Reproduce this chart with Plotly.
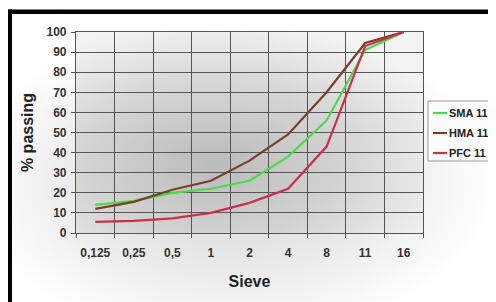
import base64
import plotly.graph_objects as go

# ---- data ----
sieve = ["0,125", "0,25", "0,5", "1", "2", "4", "8", "11", "16"]
sma_11 = [14, 16, 20, 22, 26, 38, 56, 91, 100]
hma_11 = [12, 15.5, 21.5, 26, 36, 49, 70, 94.5, 100]
pfc_11 = [5.5, 6, 7.3, 10, 15, 22, 43, 93, 100]
y_ticks = list(range(0, 101, 10))

series_names = ["SMA 11", "HMA 11", "PFC 11"]
series_values = [sma_11, hma_11, pfc_11]
series_colors = ["#4adb4a", "#7a3e2c", "#c9304a"]

FONT = "Liberation Sans, Arial, sans-serif"
GRID = "#555555"

OFF = 8  # page body margin: the figure starts at (8, 8) in the window
W, H = 488, 294
ML, MR, MT, MB = 68, 73, 24, 69
PW, PH = W - ML - MR, H - MT - MB


def px(x):
    """window pixel x -> paper fraction"""
    return (x - OFF - ML) / PW


def py(y):
    """window pixel y -> paper fraction"""
    return (H - MB - (y - OFF)) / PH


def svg_uri(svg):
    return "data:image/svg+xml;base64," + base64.b64encode(svg.encode()).decode()


plot_grad = svg_uri(
    "<svg xmlns='http://www.w3.org/2000/svg' width='347' height='201' preserveAspectRatio='none'>"
    "<defs><radialGradient id='g' cx='0.40' cy='0.66' r='0.72'>"
    "<stop offset='0' stop-color='#bbbbbb'/><stop offset='0.55' stop-color='#d5d5d5'/>"
    "<stop offset='1' stop-color='#f3f3f3'/></radialGradient></defs>"
    "<rect width='100%' height='100%' fill='url(#g)'/></svg>"
)
outer_grad = svg_uri(
    "<svg xmlns='http://www.w3.org/2000/svg' width='490' height='290' preserveAspectRatio='none'>"
    "<defs><radialGradient id='g' cx='0.45' cy='0.58' r='0.55'>"
    "<stop offset='0' stop-color='#d4d4d4'/><stop offset='0.6' stop-color='#ececec'/>"
    "<stop offset='1' stop-color='#ffffff'/></radialGradient></defs>"
    "<rect width='100%' height='100%' fill='url(#g)'/></svg>"
)

fig = go.Figure()
for name, vals, col in zip(series_names, series_values, series_colors):
    fig.add_trace(go.Scatter(x=sieve, y=vals, mode="lines", name=name,
                             line=dict(color=col, width=2.2), showlegend=False))

shapes = [
    # black frame of the slide (top and left edges)
    dict(type="rect", xref="paper", yref="paper", x0=px(8), x1=px(W + OFF + 20),
         y0=py(14), y1=py(9.5), fillcolor="black", line=dict(width=0)),
    dict(type="rect", xref="paper", yref="paper", x0=px(8), x1=px(12),
         y0=py(H + OFF + 20), y1=py(9.5), fillcolor="black", line=dict(width=0)),
    # legend frame (short sample lines like the original)
    dict(type="rect", xref="paper", yref="paper", x0=px(428), x1=px(493),
         y0=py(161), y1=py(101), fillcolor="#fbfbfb",
         line=dict(color="#9a9a9a", width=1)),
]
annotations = []
for i, (name, col) in enumerate(zip(series_names, series_colors)):
    yc = 113 + i * 20
    shapes.append(dict(type="line", xref="paper", yref="paper",
                       x0=px(433), x1=px(447), y0=py(yc), y1=py(yc),
                       line=dict(color=col, width=2.2)))
    annotations.append(dict(xref="paper", yref="paper", x=px(447), y=py(yc),
                            xanchor="left", yanchor="middle", showarrow=False,
                            text=name,
                            font=dict(family=FONT, size=11, color="#222222",
                                      weight="bold")))

fig.update_layout(
    width=W, height=H, autosize=False,
    margin=dict(l=ML, r=MR, t=MT, b=MB),
    paper_bgcolor="white",
    plot_bgcolor="rgba(0,0,0,0)",
    font=dict(family=FONT, color="#333333"),
    showlegend=False,
    images=[
        dict(source=outer_grad, xref="paper", yref="paper", x=px(12), y=py(14),
             sizex=px(W + OFF) - px(12), sizey=py(14) - py(H + OFF),
             sizing="stretch", layer="below"),
        dict(source=plot_grad, xref="paper", yref="paper", x=0, y=1,
             sizex=1, sizey=1, sizing="stretch", layer="below"),
    ],
    shapes=shapes,
    annotations=annotations,
)

fig.update_xaxes(
    type="category", range=[-0.5, len(sieve) - 0.5], tickson="boundaries",
    automargin=False, tickangle=0,
    showgrid=True, gridcolor=GRID, gridwidth=1.2,
    showline=True, linecolor=GRID, linewidth=1.2, mirror=True,
    ticks="outside", ticklen=4, tickcolor=GRID, tickwidth=1.2,
    tickfont=dict(family=FONT, size=12, color="#333333", weight="bold"),
    ticklabelstandoff=8,
    title=dict(text="Sieve", standoff=17,
               font=dict(family=FONT, size=16, color="#222222", weight="bold")),
)
fig.update_yaxes(
    range=[0, 100], tickvals=y_ticks, automargin=False,
    showgrid=True, gridcolor=GRID, gridwidth=1.2,
    showline=True, linecolor=GRID, linewidth=1.2, mirror=True,
    zeroline=False,
    ticks="outside", ticklen=4, tickcolor=GRID, tickwidth=1.2,
    tickfont=dict(family=FONT, size=12, color="#333333", weight="bold"),
    ticklabelstandoff=2,
    title=dict(text="% passing", standoff=8,
               font=dict(family=FONT, size=16, color="#222222", weight="bold")),
)

fig.write_html("out.html")
